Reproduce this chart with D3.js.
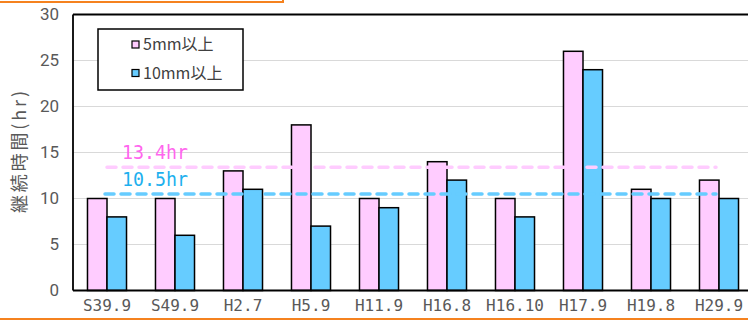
<!DOCTYPE html>
<html><head><meta charset="utf-8">
<script src="https://cdn.jsdelivr.net/npm/d3@7"></script>
<style>body{margin:0;background:#fff;}svg{display:block;}</style>
</head><body>
<svg id="c" width="748" height="320"></svg>
<script>
const categories = ["S39.9","S49.9","H2.7","H5.9","H11.9","H16.8","H16.10","H17.9","H19.8","H29.9"];
const seriesNames = ["5mm以上","10mm以上"];
const values5mm = [10,10,13,18,10,14,10,26,11,12];
const values10mm = [8,6,11,7,9,12,8,24,10,10];
const avgValues = [13.4,10.5];
const avgLabels = ["13.4hr","10.5hr"];
const yTicks = [0,5,10,15,20,25,30];

const colors = ["#FFCCFF","#66CCFF"];
const lineColors = ["#FFCCFF","#66CCFF"];
const labelColors = ["#FF66EE","#1EB0EE"];

const svg = d3.select("#c");
const L = 73, R = 753, T = 14.5, B = 290.5;

const x = d3.scaleBand().domain(categories).range([L, R]).paddingInner(0.426).paddingOuter(0.213);
const xs = d3.scaleBand().domain(seriesNames).range([0, x.bandwidth()]);
const y = d3.scaleLinear().domain([0,30]).range([B, T]);

// orange frame fragments
svg.append("rect").attr("x",-5).attr("y",-5).attr("width",288).attr("height",7)
  .attr("fill","none").attr("stroke","#F5821F").attr("stroke-width",2);
svg.append("line").attr("x1",0).attr("x2",748).attr("y1",319).attr("y2",319)
  .attr("stroke","#F5821F").attr("stroke-width",2);

// gridlines
svg.append("g").selectAll("line").data(yTicks.filter(d=>d>0)).join("line")
  .attr("x1",L).attr("x2",748).attr("y1",d=>y(d)).attr("y2",d=>y(d))
  .attr("stroke","#d9d9d9").attr("stroke-width",1.2);

// top border
svg.append("line").attr("x1",L).attr("x2",748).attr("y1",T).attr("y2",T)
  .attr("stroke","#000").attr("stroke-width",1.8);

// y axis labels
const yAxis = d3.axisLeft(y).tickValues(yTicks).tickSize(0).tickPadding(14);
const gy = svg.append("g").attr("transform",`translate(${L},0)`).call(yAxis);
gy.select(".domain").remove();
gy.selectAll("text").attr("fill","#595959").style("font-family","'Roboto','Liberation Sans',sans-serif")
  .style("font-size","17px");

// bars
const groups = svg.append("g").selectAll("g").data(categories).join("g")
  .attr("transform",d=>`translate(${x(d)},0)`);
const seriesData = [values5mm, values10mm];
seriesNames.forEach((s,si)=>{
  groups.append("rect")
    .attr("x", xs(s))
    .attr("y", (d,i)=>y(seriesData[si][i]))
    .attr("width", xs.bandwidth())
    .attr("height", (d,i)=>B - y(seriesData[si][i]))
    .attr("fill", colors[si]).attr("stroke","#000").attr("stroke-width",1.5);
});

// average lines
const first = x(categories[0]) + x.bandwidth()/2;
const last = x(categories[categories.length-1]) + x.bandwidth()/2 - 3;
avgValues.forEach((v,i)=>{
  svg.append("line").attr("x1",first - (i===1?2:0)).attr("x2",last)
    .attr("y1",y(v)).attr("y2",y(v))
    .attr("stroke",lineColors[i]).attr("stroke-width",3.5)
    .attr("stroke-dasharray","9,7").attr("stroke-linecap","round");
  svg.append("text").attr("x",122).attr("y",y(v)-8)
    .attr("fill",labelColors[i]).style("font-family","'DejaVu Sans Mono',monospace")
    .style("font-size","19px").attr("textLength",66).attr("lengthAdjust","spacingAndGlyphs")
    .text(avgLabels[i]);
});

// axes lines
svg.append("line").attr("x1",L).attr("x2",L).attr("y1",T).attr("y2",B)
  .attr("stroke","#000").attr("stroke-width",1.8);
svg.append("line").attr("x1",L).attr("x2",748).attr("y1",B).attr("y2",B)
  .attr("stroke","#000").attr("stroke-width",1.8);

// x axis labels
const xAxis = d3.axisBottom(x).tickSize(0).tickPadding(9);
const gx = svg.append("g").attr("transform",`translate(0,${B})`).call(xAxis);
gx.select(".domain").remove();
gx.selectAll("text").attr("fill","#595959").style("font-family","'DejaVu Sans Mono',monospace")
  .style("font-size","16px");

// y axis title
svg.append("text").attr("transform","translate(26,152) rotate(-90)")
  .attr("text-anchor","middle").attr("fill","#595959")
  .style("font-family","'Noto Sans CJK JP',sans-serif").style("font-size","18px")
  .attr("textLength",122).attr("lengthAdjust","spacing")
  .text("継続時間(hr)");

// legend
const lg = svg.append("g");
lg.append("rect").attr("x",98).attr("y",29).attr("width",145).attr("height",61)
  .attr("fill","#fff").attr("stroke","#000").attr("stroke-width",1.5);
seriesNames.forEach((s,i)=>{
  const cy = 44.5 + i*28.5;
  lg.append("rect").attr("x",132).attr("y",cy-3.5).attr("width",7).attr("height",7)
    .attr("fill",colors[i]).attr("stroke","#000").attr("stroke-width",1.2);
  lg.append("text").attr("x",143).attr("y",cy).attr("dy","0.35em")
    .attr("fill","#404040").style("font-family","'Noto Sans CJK JP',sans-serif")
    .style("font-size","16px").text(s);
});
</script>
</body></html>
